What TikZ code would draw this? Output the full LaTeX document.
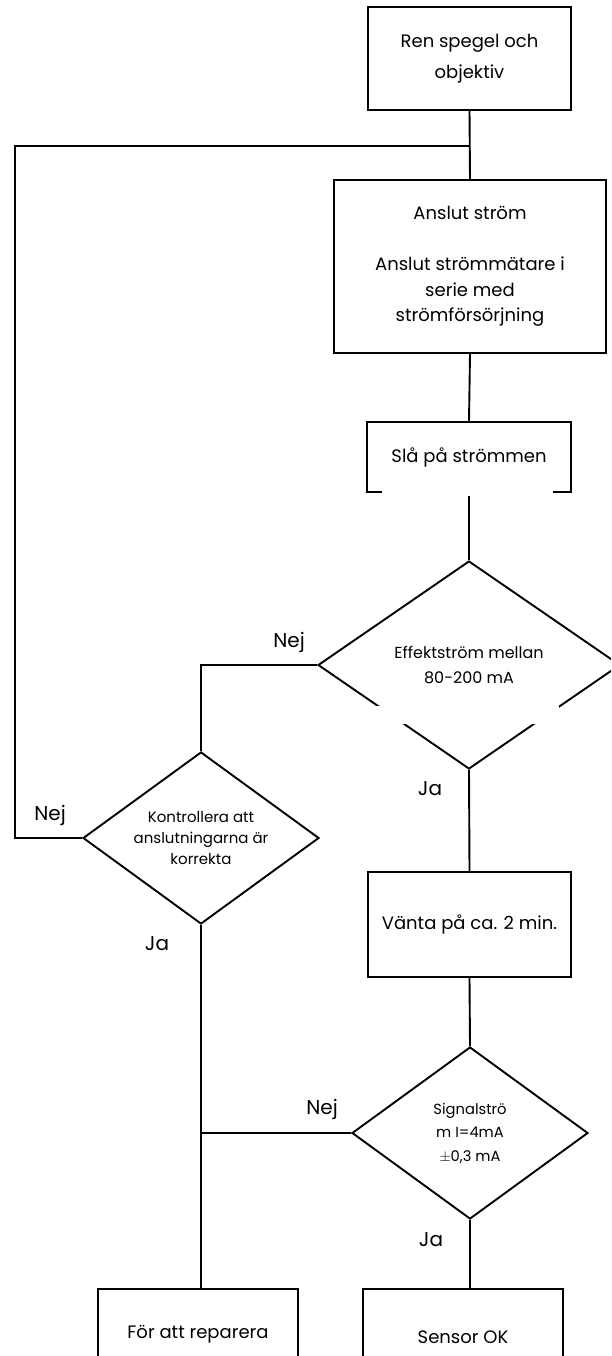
\documentclass[tikz,border=0pt]{standalone}
\usepackage{fontspec}
\setmainfont{Poppins}
\usetikzlibrary{shapes.geometric}
\begin{document}
\begin{tikzpicture}[x=1pt,y=-1pt,line width=1.9pt,
  box/.style={draw,rectangle,inner sep=0pt,align=center,font=\fontsize{18}{25.5}\selectfont},
  dia/.style={draw,diamond,inner sep=0pt,align=center},
  lbl/.style={inner sep=0pt,anchor=base,font=\fontsize{20}{22}\selectfont}]
\useasboundingbox (0,0) rectangle (611,1356);
\clip (0,0) rectangle (611,1356);
% boxes
\node[box,minimum width=203pt,minimum height=103pt,font=\fontsize{18}{31}\selectfont] (b1) at (469.5,58.5) {Ren spegel och\\objektiv};
\node[box,minimum width=272pt,minimum height=173pt] (b2) at (470,266.5) {Anslut ström\\[25.5pt]Anslut strömmätare i\\serie med\\strömförsörjning};
\node[box,minimum width=204pt,minimum height=70pt] (b3) at (469,457) {Slå på strömmen};
\node[dia,aspect=1.45,minimum width=302pt,minimum height=208pt,font=\fontsize{16}{25}\selectfont] (d1) at (469,665) {Effektström mellan\\80-200 mA};
\node[dia,aspect=1.37,minimum width=236pt,minimum height=172pt,font=\fontsize{15}{21}\selectfont] (d2) at (201,838) {Kontrollera att\\anslutningarna är\\korrekta};
\node[box,minimum width=203pt,minimum height=105pt] (b4) at (469.5,924.5) {Vänta på ca. 2 min.};
\node[dia,aspect=1.37,minimum width=236pt,minimum height=172pt,font=\fontsize{14.7}{23.5}\selectfont] (d3) at (470,1133) {Signalströ\\m I=4mA\\$\pm$0,3 mA};
\node[box,minimum width=200pt,minimum height=90pt] (b5) at (198,1334) {För att reparera};
\node[box,minimum width=200pt,minimum height=96pt] (b6) at (463,1337) {Sensor OK};
% junctions
\coordinate (jtop) at (469,146);
\coordinate (lft) at (15,146);
% connectors
\draw (b1.south) -- (b2.north);
\draw (d2.west) -- (lft |- d2.west) -- (lft) -- (jtop);
\draw (b2.south) -- (b3.north);
\draw (b3.south) -- (d1.north);
\draw (d1.west) -- (d2.north |- d1.west) -- (d2.north);
\draw (d1.south) -- (b4.north);
\draw (b4.south) -- (d3.north);
\draw (d2.south) -- (d2.south |- b5.north);
\draw (d3.west) -- (d2.south |- d3.west);
\draw (d3.south) -- (d3.south |- b6.north);
% white gaps as in the reference
\fill[white] (382,488) rectangle (553,496);
\fill[white] (376,706) rectangle (559,724);
% labels
\node[lbl] (n1) at (289,647) {Nej};
\node[lbl] (n2) at (50,820) {Nej};
\node[lbl] (j2) at (157,950) {Ja};
\node[lbl] (j1) at (430,795) {Ja};
\node[lbl] (n3) at (322,1114) {Nej};
\node[lbl] (j3) at (431,1246) {Ja};
\end{tikzpicture}
\end{document}
